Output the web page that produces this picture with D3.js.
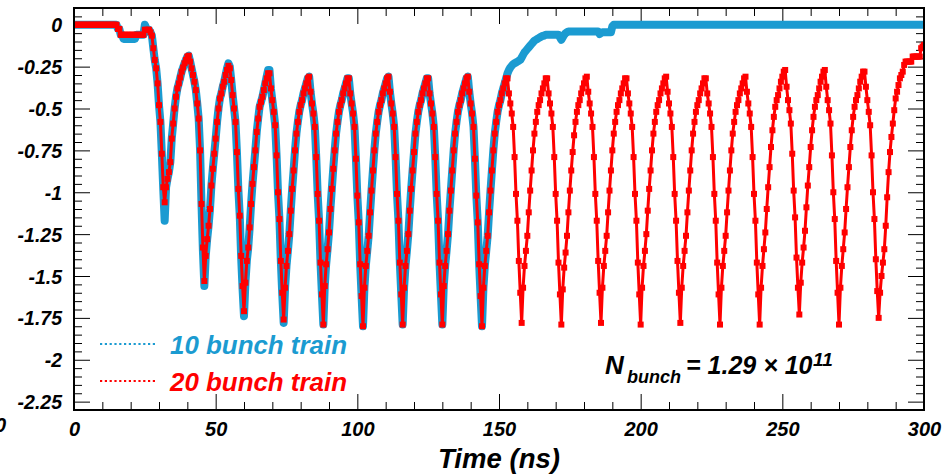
<!DOCTYPE html>
<html>
<head>
<meta charset="utf-8">
<script src="https://cdn.jsdelivr.net/npm/d3@7"></script>
<style>
  html, body { margin: 0; padding: 0; background: #fff; }
  svg { display: block; }
</style>
</head>
<body>
<svg id="chart" width="945" height="475"></svg>
<script>
// Induced signal (arb. units) sampled every 0.5 ns; one row = 14 ns (one bunch spacing).
const SAMPLE_NS = 0.5;

const train20 = [
  0,0,0,0,0,0,0,0,0,0,0,0,0,0,0,0,0,0,0,0,0,0,0,0,0,0,0,0,
  0,0,0,-0.025,-0.025,-0.06,-0.06,-0.06,-0.06,-0.06,-0.06,-0.06,-0.06,-0.06,-0.06,-0.06,-0.06,-0.06,-0.06,-0.06,-0.06,-0.06,-0.03,-0.03,-0.03,-0.03,-0.045,-0.065,
  -0.14,-0.21,-0.26,-0.35,-0.48,-0.58,-0.77,-0.97,-1.06,-0.97,-0.92,-0.88,-0.82,-0.68,-0.59,-0.50,-0.43,-0.38,-0.35,-0.315,-0.28,-0.255,-0.23,-0.21,-0.19,-0.185,-0.22,-0.26,
  -0.30,-0.34,-0.39,-0.47,-0.56,-0.75,-1.07,-1.33,-1.53,-1.38,-1.28,-1.20,-1.10,-0.96,-0.86,-0.77,-0.68,-0.58,-0.50,-0.44,-0.41,-0.37,-0.34,-0.30,-0.27,-0.245,-0.26,-0.33,
  -0.42,-0.50,-0.58,-0.76,-0.98,-1.14,-1.38,-1.56,-1.71,-1.54,-1.41,-1.33,-1.21,-1.07,-0.95,-0.85,-0.75,-0.64,-0.56,-0.49,-0.46,-0.43,-0.39,-0.35,-0.32,-0.29,-0.29,-0.38,
  -0.45,-0.52,-0.60,-0.78,-1.00,-1.16,-1.41,-1.60,-1.76,-1.57,-1.44,-1.35,-1.25,-1.11,-0.98,-0.87,-0.75,-0.65,-0.58,-0.52,-0.48,-0.45,-0.41,-0.38,-0.35,-0.32,-0.31,-0.40,
  -0.47,-0.53,-0.61,-0.79,-1.01,-1.17,-1.42,-1.61,-1.79,-1.56,-1.43,-1.34,-1.24,-1.10,-0.98,-0.86,-0.75,-0.65,-0.58,-0.52,-0.48,-0.45,-0.41,-0.38,-0.35,-0.32,-0.32,-0.41,
  -0.47,-0.53,-0.61,-0.80,-1.02,-1.18,-1.43,-1.62,-1.80,-1.57,-1.44,-1.35,-1.26,-1.12,-0.99,-0.87,-0.75,-0.65,-0.58,-0.52,-0.48,-0.45,-0.41,-0.38,-0.35,-0.32,-0.31,-0.40,
  -0.47,-0.53,-0.61,-0.79,-1.01,-1.17,-1.42,-1.61,-1.79,-1.57,-1.44,-1.35,-1.25,-1.11,-0.98,-0.87,-0.76,-0.65,-0.58,-0.52,-0.48,-0.45,-0.41,-0.38,-0.35,-0.32,-0.32,-0.41,
  -0.47,-0.53,-0.61,-0.79,-1.01,-1.17,-1.42,-1.61,-1.79,-1.56,-1.44,-1.35,-1.25,-1.11,-0.99,-0.87,-0.75,-0.65,-0.58,-0.52,-0.48,-0.45,-0.41,-0.38,-0.35,-0.32,-0.31,-0.40,
  -0.47,-0.53,-0.61,-0.80,-1.02,-1.18,-1.43,-1.62,-1.80,-1.57,-1.44,-1.35,-1.26,-1.12,-0.99,-0.87,-0.75,-0.65,-0.58,-0.52,-0.48,-0.45,-0.41,-0.38,-0.35,-0.32,-0.32,-0.41,
  -0.47,-0.53,-0.61,-0.79,-1.01,-1.17,-1.41,-1.60,-1.78,-1.57,-1.44,-1.35,-1.26,-1.12,-0.99,-0.87,-0.75,-0.65,-0.58,-0.52,-0.48,-0.45,-0.41,-0.38,-0.35,-0.32,-0.32,-0.41,
  -0.47,-0.53,-0.61,-0.79,-1.01,-1.17,-1.42,-1.61,-1.79,-1.58,-1.45,-1.36,-1.26,-1.12,-0.99,-0.87,-0.76,-0.66,-0.58,-0.52,-0.48,-0.45,-0.41,-0.38,-0.35,-0.32,-0.31,-0.40,
  -0.47,-0.53,-0.61,-0.79,-1.01,-1.17,-1.41,-1.60,-1.78,-1.57,-1.44,-1.35,-1.26,-1.12,-0.99,-0.87,-0.75,-0.65,-0.58,-0.52,-0.48,-0.45,-0.41,-0.38,-0.35,-0.32,-0.32,-0.41,
  -0.47,-0.53,-0.61,-0.79,-1.01,-1.17,-1.42,-1.61,-1.79,-1.57,-1.44,-1.35,-1.25,-1.11,-0.98,-0.87,-0.75,-0.65,-0.58,-0.52,-0.48,-0.45,-0.41,-0.38,-0.35,-0.32,-0.31,-0.40,
  -0.47,-0.53,-0.61,-0.79,-1.01,-1.17,-1.41,-1.60,-1.78,-1.57,-1.44,-1.35,-1.26,-1.12,-0.99,-0.87,-0.75,-0.65,-0.58,-0.52,-0.48,-0.45,-0.41,-0.38,-0.35,-0.32,-0.32,-0.41,
  -0.47,-0.53,-0.61,-0.79,-1.01,-1.17,-1.42,-1.61,-1.79,-1.57,-1.44,-1.35,-1.26,-1.12,-0.99,-0.87,-0.75,-0.65,-0.58,-0.52,-0.48,-0.45,-0.41,-0.38,-0.35,-0.32,-0.31,-0.40,
  -0.47,-0.53,-0.61,-0.79,-1.01,-1.17,-1.42,-1.61,-1.79,-1.57,-1.44,-1.34,-1.24,-1.10,-0.97,-0.85,-0.73,-0.63,-0.55,-0.49,-0.45,-0.42,-0.38,-0.34,-0.31,-0.28,-0.27,-0.37,
  -0.45,-0.51,-0.59,-0.77,-0.99,-1.15,-1.39,-1.57,-1.73,-1.54,-1.42,-1.33,-1.23,-1.09,-0.96,-0.85,-0.73,-0.63,-0.55,-0.49,-0.45,-0.42,-0.38,-0.34,-0.31,-0.28,-0.27,-0.37,
  -0.45,-0.51,-0.59,-0.78,-1.00,-1.16,-1.41,-1.60,-1.79,-1.57,-1.44,-1.34,-1.24,-1.10,-0.97,-0.85,-0.73,-0.63,-0.55,-0.49,-0.45,-0.42,-0.38,-0.34,-0.31,-0.28,-0.28,-0.37,
  -0.45,-0.52,-0.60,-0.78,-1.00,-1.16,-1.40,-1.59,-1.75,-1.60,-1.50,-1.42,-1.34,-1.20,-1.03,-0.88,-0.76,-0.67,-0.59,-0.51,-0.44,-0.40,-0.36,-0.32,-0.30,-0.28,-0.24,-0.22,
  -0.22,-0.22,-0.22,-0.22,-0.19,-0.19,-0.19,-0.19,-0.19,-0.19,-0.14,-0.13,-0.12
];

const train10 = [
  0,0,0,0,0,0,0,0,0,0,0,0,0,0,0,0,0,0,0,0,0,0,0,0,0,0,0,0,
  0,0,0,-0.025,-0.025,-0.06,-0.06,-0.085,-0.085,-0.085,-0.085,-0.085,-0.085,-0.085,-0.085,-0.085,-0.06,-0.06,-0.06,-0.06,-0.06,-0.06,0.0,-0.02,-0.03,-0.03,-0.045,-0.065,
  -0.14,-0.21,-0.26,-0.35,-0.48,-0.58,-0.77,-0.98,-1.17,-0.97,-0.92,-0.88,-0.82,-0.68,-0.59,-0.50,-0.43,-0.38,-0.35,-0.315,-0.28,-0.255,-0.23,-0.21,-0.19,-0.185,-0.22,-0.26,
  -0.30,-0.34,-0.39,-0.47,-0.56,-0.75,-1.07,-1.35,-1.56,-1.38,-1.28,-1.20,-1.10,-0.96,-0.86,-0.77,-0.68,-0.58,-0.50,-0.44,-0.41,-0.37,-0.34,-0.30,-0.26,-0.23,-0.25,-0.33,
  -0.42,-0.50,-0.58,-0.76,-0.98,-1.14,-1.39,-1.58,-1.74,-1.54,-1.41,-1.33,-1.21,-1.07,-0.95,-0.85,-0.75,-0.64,-0.56,-0.49,-0.46,-0.43,-0.39,-0.35,-0.31,-0.27,-0.27,-0.38,
  -0.45,-0.52,-0.60,-0.78,-1.00,-1.16,-1.41,-1.61,-1.78,-1.57,-1.44,-1.35,-1.25,-1.11,-0.98,-0.87,-0.75,-0.65,-0.58,-0.52,-0.48,-0.45,-0.41,-0.38,-0.35,-0.32,-0.31,-0.40,
  -0.47,-0.53,-0.61,-0.79,-1.01,-1.17,-1.42,-1.61,-1.79,-1.56,-1.43,-1.34,-1.24,-1.10,-0.98,-0.86,-0.75,-0.65,-0.58,-0.52,-0.48,-0.45,-0.41,-0.38,-0.35,-0.32,-0.32,-0.41,
  -0.47,-0.53,-0.61,-0.80,-1.02,-1.18,-1.43,-1.62,-1.80,-1.57,-1.44,-1.35,-1.26,-1.12,-0.99,-0.87,-0.75,-0.65,-0.58,-0.52,-0.48,-0.45,-0.41,-0.38,-0.35,-0.32,-0.31,-0.40,
  -0.47,-0.53,-0.61,-0.79,-1.01,-1.17,-1.42,-1.61,-1.79,-1.57,-1.44,-1.35,-1.25,-1.11,-0.98,-0.87,-0.76,-0.65,-0.58,-0.52,-0.48,-0.45,-0.41,-0.38,-0.35,-0.32,-0.32,-0.41,
  -0.47,-0.53,-0.61,-0.79,-1.01,-1.17,-1.42,-1.61,-1.79,-1.56,-1.44,-1.35,-1.25,-1.11,-0.99,-0.87,-0.75,-0.65,-0.58,-0.52,-0.48,-0.45,-0.41,-0.38,-0.35,-0.32,-0.31,-0.40,
  -0.47,-0.53,-0.61,-0.80,-1.02,-1.18,-1.43,-1.62,-1.80,-1.57,-1.44,-1.35,-1.26,-1.12,-0.99,-0.87,-0.75,-0.65,-0.58,-0.52,-0.48,-0.45,-0.41,-0.38,-0.35,-0.32,-0.29,-0.27,
  -0.255,-0.245,-0.235,-0.23,-0.225,-0.22,-0.215,-0.21,-0.195,-0.18,-0.165,-0.155,-0.145,-0.135,-0.125,-0.115,-0.105,-0.095,-0.09,-0.085,-0.08,-0.075,-0.07,-0.065,-0.065,-0.06,-0.06,-0.06,
  -0.06,-0.06,-0.06,-0.06,-0.06,-0.06,-0.06,-0.075,-0.09,-0.075,-0.06,-0.05,-0.045,-0.04,-0.04,-0.04,-0.04,-0.04,-0.04,-0.04,-0.04,-0.04,-0.04,-0.04,-0.04,-0.04,-0.04,-0.04,
  -0.04,-0.04,-0.04,-0.04,-0.04,-0.04,-0.04,-0.055,-0.05,-0.045,-0.045,-0.045,-0.045,-0.045,-0.045,-0.045,-0.01,0,0,0,0,0,0,0,0,0,0,0
];
// After settling, the 10-bunch signal stays at this level to the end of the window.
const train10Hold = [300, 0];

const xTickValues = [0, 50, 100, 150, 200, 250, 300];
const xTickLabels = ["0", "50", "100", "150", "200", "250", "300"];
const yTickValues = [0, -0.25, -0.5, -0.75, -1, -1.25, -1.5, -1.75, -2, -2.25];
const yTickLabels = ["0", "-0.25", "-0.5", "-0.75", "-1", "-1.25", "-1.5", "-1.75", "-2", "-2.25"];
const legendLabels = ["10 bunch train", "20 bunch train"];
const seriesColors = ["#1b9bd1", "#ff0000"];

const FONT = "'Liberation Sans', Arial, sans-serif";

const svg = d3.select("#chart");
const x = d3.scaleLinear().domain([0, 300]).range([74, 924]);
const y = d3.scaleLinear().domain([-2.3, 0.1]).range([410, 8]);
const [x0, x1] = x.range();
const [y0, y1] = [y.range()[1], y.range()[0]];

// Bold italic lettering used for every label on the figure
function lettering(sel) {
  return sel.attr("font-family", null)
    .attr("style", `font-family:${FONT};font-weight:bold;font-style:italic`);
}

const defs = svg.append("defs");
defs.append("clipPath").attr("id", "plot-clip")
  .append("rect").attr("x", x0).attr("y", y0).attr("width", x1 - x0).attr("height", y1 - y0);

// Minor tick positions (every 10 ns / every 0.05)
const xMinor = d3.range(0, 300.001, 10).filter(v => v % 50 !== 0);
const yMinor = d3.range(-2.3, 0.1001, 0.05).map(v => +v.toFixed(2)).filter(v => !yTickValues.includes(v));

function styleAxis(g) {
  g.attr("font-family", null);
  g.select(".domain").remove();
  g.selectAll(".tick line").attr("stroke", "#000").attr("stroke-width", 1);
}

// Left axis with labels, ticks pointing inward
svg.append("g").attr("transform", `translate(${x0},0)`)
  .call(d3.axisLeft(y).tickValues(yTickValues).tickSizeInner(-16).tickSizeOuter(0).tickPadding(12)
    .tickFormat((d, i) => yTickLabels[i]))
  .call(styleAxis)
  .call(g => lettering(g.selectAll(".tick text")).attr("font-size", 19.5).attr("dy", "0.36em").attr("fill", "#000"));
svg.append("g").attr("transform", `translate(${x0},0)`)
  .call(d3.axisLeft(y).tickValues(yMinor).tickSizeInner(-8).tickSizeOuter(0).tickFormat(""))
  .call(styleAxis);

// Right axis (ticks only)
svg.append("g").attr("transform", `translate(${x1},0)`)
  .call(d3.axisRight(y).tickValues(yTickValues).tickSizeInner(-16).tickSizeOuter(0).tickFormat(""))
  .call(styleAxis);
svg.append("g").attr("transform", `translate(${x1},0)`)
  .call(d3.axisRight(y).tickValues(yMinor).tickSizeInner(-8).tickSizeOuter(0).tickFormat(""))
  .call(styleAxis);

// Bottom axis with labels
svg.append("g").attr("transform", `translate(0,${y1})`)
  .call(d3.axisBottom(x).tickValues(xTickValues).tickSizeInner(-16).tickSizeOuter(0).tickPadding(12)
    .tickFormat((d, i) => xTickLabels[i]))
  .call(styleAxis)
  .call(g => lettering(g.selectAll(".tick text")).attr("font-size", 20).attr("fill", "#000"));
svg.append("g").attr("transform", `translate(0,${y1})`)
  .call(d3.axisBottom(x).tickValues(xMinor).tickSizeInner(-8).tickSizeOuter(0).tickFormat(""))
  .call(styleAxis);

// Top axis (ticks only)
svg.append("g").attr("transform", `translate(0,${y0})`)
  .call(d3.axisTop(x).tickValues(xTickValues).tickSizeInner(-16).tickSizeOuter(0).tickFormat(""))
  .call(styleAxis);
svg.append("g").attr("transform", `translate(0,${y0})`)
  .call(d3.axisTop(x).tickValues(xMinor).tickSizeInner(-8).tickSizeOuter(0).tickFormat(""))
  .call(styleAxis);

// Traces: 10-bunch as a wide band underneath, 20-bunch as a line with square markers
const pts20 = train20.map((v, i) => [i * SAMPLE_NS, v]);
const pts10 = train10.map((v, i) => [i * SAMPLE_NS, v]).concat([train10Hold]);
const line = d3.line().x(d => x(d[0])).y(d => y(d[1]));

const plot = svg.append("g").attr("clip-path", "url(#plot-clip)");
plot.append("path").datum(pts10)
  .attr("d", line).attr("fill", "none")
  .attr("stroke", seriesColors[0]).attr("stroke-width", 8)
  .attr("stroke-linejoin", "round").attr("stroke-linecap", "round");
plot.append("path").datum(pts20)
  .attr("d", line).attr("fill", "none")
  .attr("stroke", seriesColors[1]).attr("stroke-width", 3)
  .attr("stroke-linejoin", "round");
const ms = 6;
plot.append("g").selectAll("rect").data(pts20).join("rect")
  .attr("x", d => x(d[0]) - ms / 2).attr("y", d => y(d[1]) - ms / 2)
  .attr("width", ms).attr("height", ms).attr("fill", seriesColors[1]);

// Frame
svg.append("rect").attr("x", x0).attr("y", y0).attr("width", x1 - x0).attr("height", y1 - y0)
  .attr("fill", "none").attr("stroke", "#000").attr("stroke-width", 2);

// Axis title
lettering(svg.append("text")).attr("x", (x0 + x1) / 2).attr("y", 468).attr("text-anchor", "middle")
  .attr("font-size", 27).attr("fill", "#000")
  .attr("textLength", 122).attr("lengthAdjust", "spacingAndGlyphs").text("Time (ns)");

// Partially visible label at the left edge
lettering(svg.append("text")).attr("x", 6).attr("y", 432).attr("text-anchor", "end")
  .attr("font-size", 20).attr("fill", "#000").text("0");

// Legend
const legend = svg.append("g");
[344, 381].forEach((ly, i) => {
  legend.append("line").attr("x1", 100).attr("x2", 155).attr("y1", ly).attr("y2", ly)
    .attr("stroke", seriesColors[i]).attr("stroke-width", 2.2).attr("stroke-dasharray", "2.2,2.6");
  lettering(legend.append("text")).attr("x", 170).attr("y", ly + 9.5)
    .attr("font-size", 26).attr("fill", seriesColors[i])
    .attr("textLength", 177).attr("lengthAdjust", "spacingAndGlyphs").text(legendLabels[i]);
});

// Bunch population annotation
const ann = lettering(svg.append("text")).attr("y", 374).attr("font-size", 26).attr("fill", "#000");
ann.append("tspan").attr("x", 605).text("N");
ann.append("tspan").attr("x", 627).attr("font-size", 18).attr("dy", 8.5).text("bunch");
ann.append("tspan").attr("x", 686).attr("dy", -8.5).attr("font-size", 25).text("= 1.29 \u00d7 10");
ann.append("tspan").attr("x", 813).attr("font-size", 19).attr("dy", -8).text("11");
</script>
</body>
</html>
